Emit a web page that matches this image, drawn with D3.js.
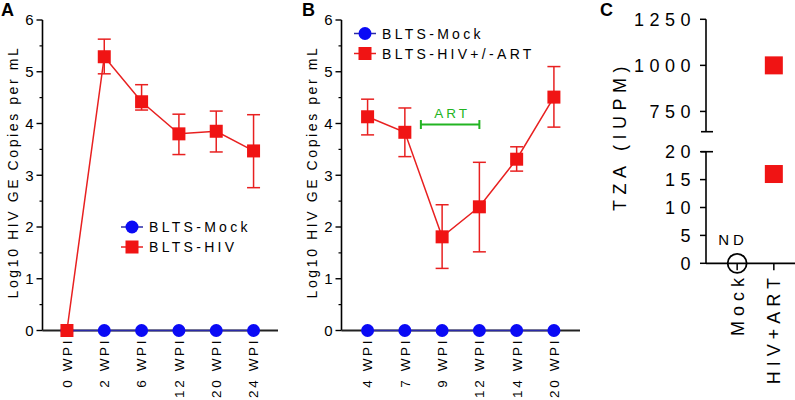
<!DOCTYPE html>
<html><head><meta charset="utf-8">
<script src="https://cdn.jsdelivr.net/npm/d3@7"></script>
<style>body{margin:0;background:#fff}svg{display:block;font-family:"Liberation Sans",Arial,sans-serif}</style>
</head><body><svg id="c" width="795" height="400"></svg>
<script>
// ---- data ----
const catsA = ["0 WPI","2 WPI","6 WPI","12 WPI","20 WPI","24 WPI"];
const mockA = [0,0,0,0,0,0];
const hivA = [0, 5.29, 4.42, 3.80, 3.85, 3.47];
const hivA_lo = [0, 4.96, 4.26, 3.40, 3.45, 2.76];
const hivA_hi = [0, 5.63, 4.75, 4.18, 4.24, 4.17];

const catsB = ["4 WPI","7 WPI","9 WPI","12 WPI","14 WPI","20 WPI"];
const mockB = [0,0,0,0,0,0];
const hivB = [4.13, 3.83, 1.81, 2.39, 3.31, 4.51];
const hivB_lo = [3.78, 3.36, 1.20, 1.52, 3.08, 3.93];
const hivB_hi = [4.47, 4.30, 2.43, 3.25, 3.55, 5.10];
const artLevel = 3.98;

const catsC = ["Mock","HIV+ART"];
const hivArtC = [1000, 16];
const yTicksAB = [0,1,2,3,4,5,6];
const yTicksCUpper = [750,1000,1250];
const yTicksCLower = [0,5,10,15,20];

const RED = "#f01414", REDL = "#e82020", BLUE = "#0a0af5", NAVY = "#2a2aa8", GREEN = "#22b422";
const svg = d3.select("#c");

function panel(opts){
  const g = svg.append("g");
  const x = d3.scalePoint().domain(opts.cats).range([opts.x0, opts.x1]).padding(opts.pad);
  const y = d3.scaleLinear().domain([0,6]).range([330.5, 20]);
  // y axis
  g.append("line").attr("x1",opts.x0).attr("x2",opts.x0).attr("y1",y(6)).attr("y2",y(0)).attr("stroke","#000").attr("stroke-width",1.6);
  yTicksAB.forEach(t=>{
    g.append("line").attr("x1",opts.x0-6).attr("x2",opts.x0).attr("y1",y(t)).attr("y2",y(t)).attr("stroke","#000").attr("stroke-width",1.4);
    g.append("text").attr("x",opts.x0-9).attr("y",y(t)).attr("dy","0.36em").attr("text-anchor","end").attr("font-size",15).text(t);
    if(t<6) g.append("line").attr("x1",opts.x0-3).attr("x2",opts.x0).attr("y1",y(t+0.5)).attr("y2",y(t+0.5)).attr("stroke","#000").attr("stroke-width",1.2);
  });
  // x axis
  g.append("line").attr("x1",opts.x0).attr("x2",opts.x1).attr("y1",y(0)).attr("y2",y(0)).attr("stroke","#222").attr("stroke-width",1.8);
  opts.cats.forEach(c=>{
    g.append("line").attr("x1",x(c)).attr("x2",x(c)).attr("y1",y(0)).attr("y2",y(0)+5).attr("stroke","#000").attr("stroke-width",1.4);
    g.append("text").attr("transform",`translate(${x(c)},${338}) rotate(-90)`).attr("dy","0.36em").attr("text-anchor","end")
      .attr("font-size",13.5).attr("letter-spacing",2.6).text(c);
  });
  // y title
  g.append("text").attr("transform",`translate(${opts.titleX},${172}) rotate(-90)`).attr("text-anchor","middle")
    .attr("font-size",14).attr("letter-spacing",2.6).text("Log10 HIV GE Copies per mL");
  // panel letter
  g.append("text").attr("x",opts.letterX).attr("y",16).attr("font-size",18).attr("font-weight","bold").text(opts.letter);
  // mock
  const line = d3.line().x((d,i)=>x(opts.cats[i])).y(d=>y(d));
  g.append("path").attr("d",line(opts.mock)).attr("fill","none").attr("stroke",NAVY).attr("stroke-width",1.5);
  opts.mock.forEach((v,i)=>g.append("circle").attr("cx",x(opts.cats[i])).attr("cy",y(v)).attr("r",6.5).attr("fill",BLUE));
  // hiv
  g.append("path").attr("d",line(opts.hiv)).attr("fill","none").attr("stroke",REDL).attr("stroke-width",1.5);
  opts.hiv.forEach((v,i)=>{
    const cx = x(opts.cats[i]);
    if(opts.hi[i]>opts.lo[i]){
      g.append("line").attr("x1",cx).attr("x2",cx).attr("y1",y(opts.lo[i])).attr("y2",y(opts.hi[i])).attr("stroke",REDL).attr("stroke-width",1.5);
      [opts.lo[i],opts.hi[i]].forEach(e=>g.append("line").attr("x1",cx-6.5).attr("x2",cx+6.5).attr("y1",y(e)).attr("y2",y(e)).attr("stroke",REDL).attr("stroke-width",1.5));
    }
    g.append("rect").attr("x",cx-6.5).attr("y",y(v)-6.5).attr("width",13).attr("height",13).attr("fill",RED);
  });
  // legend
  const L = opts.legend;
  [[0,"mock",opts.mockName],[1,"hiv",opts.hivName]].forEach(([k,type,name])=>{
    const ly = L.y + k*20;
    g.append("line").attr("x1",L.x-11).attr("x2",L.x+11).attr("y1",ly).attr("y2",ly).attr("stroke",type==="mock"?NAVY:REDL).attr("stroke-width",1.5);
    if(type==="mock") g.append("circle").attr("cx",L.x).attr("cy",ly).attr("r",6.5).attr("fill",BLUE);
    else g.append("rect").attr("x",L.x-6.5).attr("y",ly-6.5).attr("width",13).attr("height",13).attr("fill",RED);
    g.append("text").attr("x",L.x+17).attr("y",ly).attr("dy","0.36em").attr("font-size",14).attr("letter-spacing",3.3).text(name);
  });
  return {g,x,y};
}

const pA = panel({cats:catsA,x0:42.5,x1:278,pad:0.655,mock:mockA,hiv:hivA,lo:hivA_lo,hi:hivA_hi,
  titleX:18,letter:"A",letterX:1,legend:{x:132,y:227},mockName:"BLTS-Mock",hivName:"BLTS-HIV"});
const pB = panel({cats:catsB,x0:341.5,x1:580,pad:0.7,mock:mockB,hiv:hivB,lo:hivB_lo,hi:hivB_hi,
  titleX:317,letter:"B",letterX:302,legend:{x:365,y:33.5},mockName:"BLTS-Mock",hivName:"BLTS-HIV+/-ART"});

// ART bar (from midway between 7 and 9 WPI to 12 WPI)
{
  const x = pB.x, y = pB.y, g = pB.g;
  const xs = x("7 WPI") + x.step()*0.43, xe = x("12 WPI"), yy = y(artLevel);
  g.append("line").attr("x1",xs).attr("x2",xe).attr("y1",yy).attr("y2",yy).attr("stroke",GREEN).attr("stroke-width",2);
  [xs,xe].forEach(xx=>g.append("line").attr("x1",xx).attr("x2",xx).attr("y1",yy-4.5).attr("y2",yy+4.5).attr("stroke",GREEN).attr("stroke-width",2));
  g.append("text").attr("x",(xs+xe)/2+2).attr("y",yy-7).attr("text-anchor","middle").attr("font-size",13.5).attr("letter-spacing",3).attr("fill",GREEN).text("ART");
}

// Panel C
{
  const g = svg.append("g");
  const ax = 706;
  const x = d3.scalePoint().domain(catsC).range([ax, 805]).padding(0.85);
  const yU = d3.scaleLinear().domain([640,1250]).range([131.7,19.3]);
  const yL = d3.scaleLinear().domain([0,20]).range([263.3,151.7]);
  const tickLabel = (yy,t)=>g.append("text").attr("x",ax-10).attr("y",yy).attr("dy","0.36em").attr("text-anchor","end")
      .attr("font-size",18).attr("letter-spacing",5.5).text(t);
  g.append("line").attr("x1",ax).attr("x2",ax).attr("y1",yU(1250)).attr("y2",yU(640)).attr("stroke","#000").attr("stroke-width",1.6);
  g.append("line").attr("x1",ax-5).attr("x2",ax+7).attr("y1",yU(640)).attr("y2",yU(640)).attr("stroke","#000").attr("stroke-width",1.6);
  yTicksCUpper.forEach(t=>{
    g.append("line").attr("x1",ax-6).attr("x2",ax).attr("y1",yU(t)).attr("y2",yU(t)).attr("stroke","#000").attr("stroke-width",1.5);
    tickLabel(yU(t),t);
  });
  g.append("line").attr("x1",ax).attr("x2",ax).attr("y1",yL(20)).attr("y2",yL(0)).attr("stroke","#000").attr("stroke-width",1.6);
  g.append("line").attr("x1",ax-5).attr("x2",ax+7).attr("y1",yL(20)).attr("y2",yL(20)).attr("stroke","#000").attr("stroke-width",1.6);
  yTicksCLower.forEach(t=>{
    g.append("line").attr("x1",ax-6).attr("x2",ax).attr("y1",yL(t)).attr("y2",yL(t)).attr("stroke","#000").attr("stroke-width",1.5);
    tickLabel(yL(t),t);
  });
  g.append("line").attr("x1",ax).attr("x2",795).attr("y1",yL(0)).attr("y2",yL(0)).attr("stroke","#000").attr("stroke-width",1.8);
  catsC.forEach(c=>{
    g.append("line").attr("x1",x(c)).attr("x2",x(c)).attr("y1",yL(0)).attr("y2",yL(0)+7).attr("stroke","#000").attr("stroke-width",1.5);
    g.append("text").attr("transform",`translate(${x(c)},${273}) rotate(-90)`).attr("dy","0.36em").attr("text-anchor","end")
      .attr("font-size",18).attr("letter-spacing",5).text(c);
  });
  g.append("text").attr("transform",`translate(626,${136}) rotate(-90)`).attr("text-anchor","middle")
    .attr("font-size",18).attr("letter-spacing",5.5).text("TZA (IUPM)");
  g.append("text").attr("x",600).attr("y",16).attr("font-size",18).attr("font-weight","bold").text("C");
  // Mock: not detected
  g.append("circle").attr("cx",x("Mock")).attr("cy",yL(0)).attr("r",9.5).attr("fill","none").attr("stroke","#000").attr("stroke-width",1.8);
  g.append("text").attr("x",x("Mock")-19).attr("y",245).attr("font-size",15).attr("letter-spacing",4).text("ND");
  // HIV+ART values
  hivArtC.forEach(v=>{
    const yy = v>=640 ? yU(v) : yL(v);
    g.append("rect").attr("x",x("HIV+ART")-9).attr("y",yy-9).attr("width",18).attr("height",18).attr("fill",RED);
  });
}
</script></body></html>
